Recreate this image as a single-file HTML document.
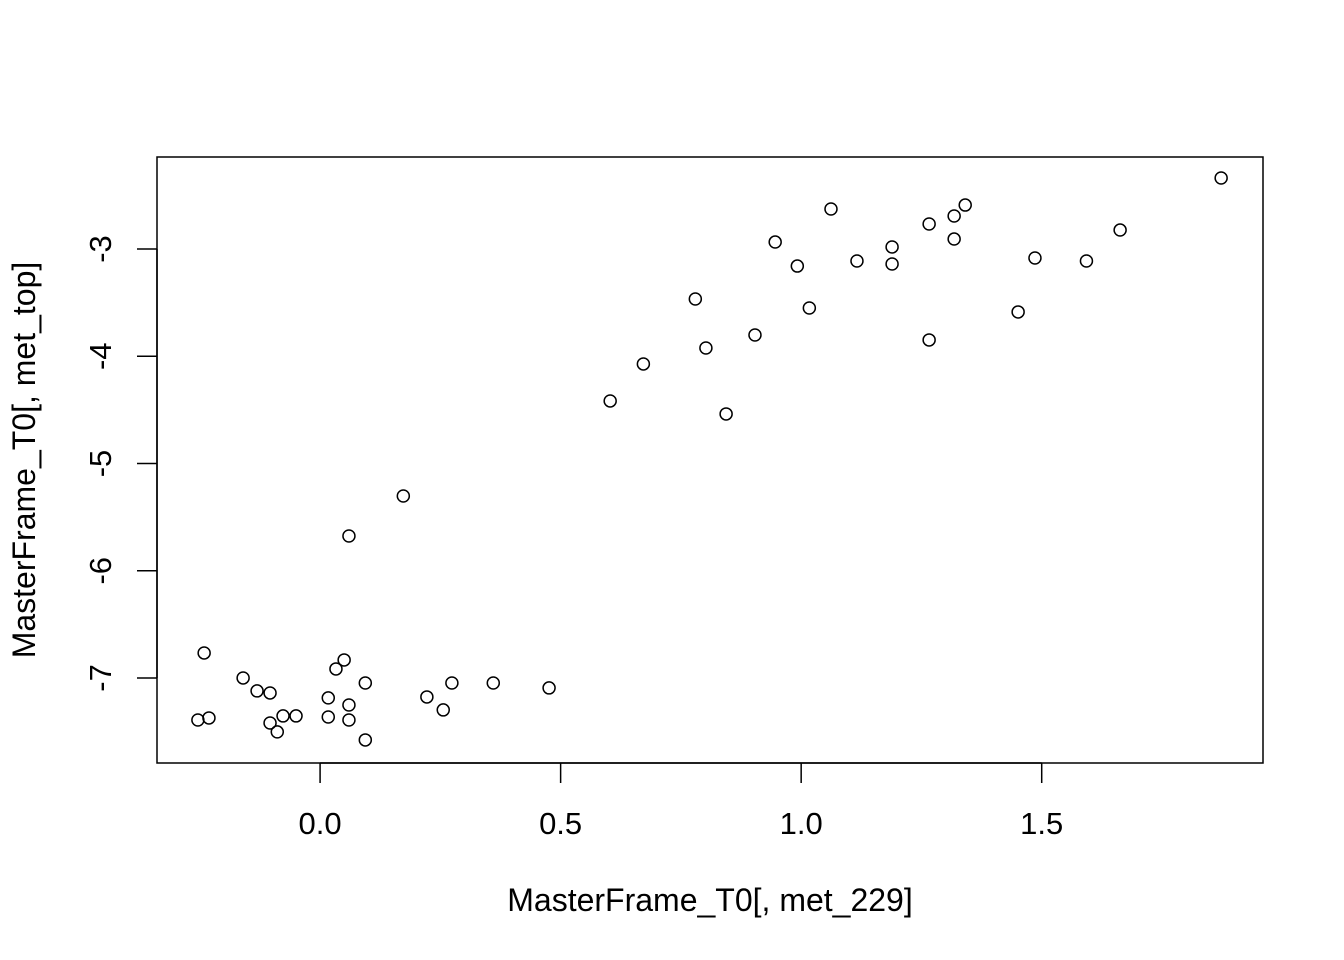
<!DOCTYPE html>
<html><head><meta charset="utf-8"><style>body{margin:0;background:#fff}svg{display:block}text{font-family:"Liberation Sans",Arial,sans-serif;fill:#000}</style></head>
<body>
<svg id="chart" width="1344" height="960" viewBox="0 0 1344 960"></svg>
<script>
const xs=[1.873,1.341,1.062,1.318,1.266,1.663,1.318,0.946,1.189,1.486,1.116,1.593,0.992,1.189,0.780,1.017,1.451,0.904,1.266,0.802,0.672,0.603,0.844,0.173,0.060,-0.241,0.050,0.033,-0.160,0.094,0.274,0.360,0.476,-0.131,-0.104,0.017,0.222,0.060,0.256,-0.077,-0.050,0.017,-0.231,-0.254,0.060,-0.104,-0.089,0.094];
const ys=[-2.338,-2.590,-2.627,-2.692,-2.767,-2.823,-2.907,-2.935,-2.981,-3.084,-3.112,-3.112,-3.159,-3.140,-3.466,-3.550,-3.587,-3.802,-3.848,-3.923,-4.072,-4.417,-4.538,-5.303,-5.676,-6.767,-6.832,-6.916,-7.000,-7.047,-7.047,-7.047,-7.093,-7.121,-7.140,-7.186,-7.177,-7.252,-7.298,-7.354,-7.354,-7.364,-7.373,-7.392,-7.392,-7.420,-7.503,-7.578];
const xTicks=[0,0.5,1.0,1.5];
const xTickLabels=["0.0","0.5","1.0","1.5"];
const yTicks=[-7,-6,-5,-4,-3];
const yTickLabels=["-7","-6","-5","-4","-3"];
const L=157,R=1263,T=157,B=763,xmin=-0.339,xmax=1.960,ymin=-7.793,ymax=-2.142;
const X=v=>L+(v-xmin)/(xmax-xmin)*(R-L);
const Y=v=>B-(v-ymin)/(ymax-ymin)*(B-T);
const svg=document.getElementById('chart');
const NS='http://www.w3.org/2000/svg';
function mk(t,a){const e=document.createElementNS(NS,t);for(const k in a)e.setAttribute(k,a[k]);svg.appendChild(e);return e;}
let e=mk('rect',{x:L,y:T,width:R-L,height:B-T,fill:'none',stroke:'#000','stroke-width':1.5});


e=mk('line',{x1:X(xTicks[0]),x2:X(xTicks[xTicks.length-1]),y1:B,y2:B,stroke:'#000','stroke-width':1.5});


xTicks.forEach((v,i)=>{
 let t=mk('line',{x1:X(v),x2:X(v),y1:B,y2:B+20,stroke:'#000','stroke-width':1.5});
 
 
 let l=mk('text',{x:X(v),y:834,'text-anchor':'middle','font-size':31});
 l.textContent=xTickLabels[i];
 
 
});
e=mk('line',{x1:L,x2:L,y1:Y(yTicks[0]),y2:Y(yTicks[yTicks.length-1]),stroke:'#000','stroke-width':1.5});


yTicks.forEach((v,i)=>{
 let t=mk('line',{x1:L-20,x2:L,y1:Y(v),y2:Y(v),stroke:'#000','stroke-width':1.5});
 
 
 let l=mk('text',{x:111,y:Y(v),'text-anchor':'middle','font-size':31,transform:`rotate(-90 111 ${Y(v)})`});
 l.textContent=yTickLabels[i];
 
 
});
xs.forEach((v,i)=>{
 let c=mk('circle',{cx:X(v),cy:Y(ys[i]),r:6,fill:'none',stroke:'#000','stroke-width':1.5});
 
 
});
e=mk('text',{x:710,y:911,'text-anchor':'middle','font-size':32});
e.textContent='MasterFrame_T0[, met_229]';


e=mk('text',{x:35,y:460,'text-anchor':'middle','font-size':32,transform:'rotate(-90 35 460)'});
e.textContent='MasterFrame_T0[, met_top]';


</script>
</body></html>
